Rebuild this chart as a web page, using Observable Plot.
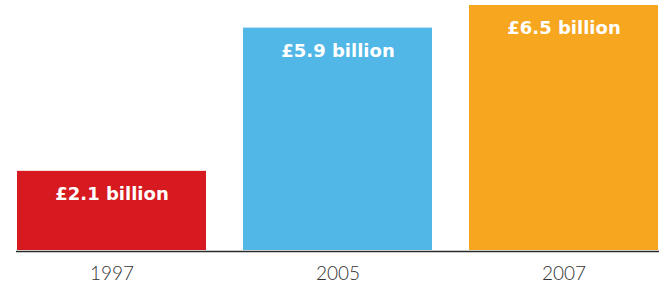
<!DOCTYPE html>
<html>
<head>
<meta charset="utf-8">
<script src="https://cdn.jsdelivr.net/npm/d3@7"></script>
<script src="https://cdn.jsdelivr.net/npm/@observablehq/plot@0.6"></script>
<style>
  html, body { margin: 0; padding: 0; background: #fff; }
  #chart svg { display: block; }
</style>
</head>
<body>
<div id="chart"></div>
<script>
const years = ["1997", "2005", "2007"];
const values = [2.1, 5.9, 6.5];
const labels = ["£2.1 billion", "£5.9 billion", "£6.5 billion"];
const colors = ["#d71920", "#50b7e6", "#f6a61f"];

const data = years.map((y, i) => ({year: y, value: values[i], label: labels[i], color: colors[i]}));

const chart = Plot.plot({
  width: 659,
  height: 285,
  marginLeft: 16,
  marginRight: 0,
  marginTop: 5,
  marginBottom: 35,
  style: {fontFamily: "Lato, 'Open Sans', sans-serif", background: "#fff", color: "#333"},
  x: {domain: years, paddingInner: 0.163, paddingOuter: 0, label: null},
  y: {domain: [0, 6.5], axis: null},
  marks: [
    Plot.barY(data, {x: "year", y: "value", fill: "color"}),
    Plot.ruleY([0], {stroke: "#2a2a2a", strokeWidth: 1.5, dy: 1}),
    Plot.text(data, {x: "year", y: "value", text: "label", dy: 23, fill: "#fff", fontSize: 18, fontWeight: "bold", fontFamily: "'DejaVu Sans', sans-serif", letterSpacing: "0.4px"}),
    Plot.axisX({tickSize: 0, tickPadding: 16, fontSize: 19, fontWeight: 300, fill: "#333", label: null})
  ]
});
document.getElementById("chart").appendChild(chart);
</script>
</body>
</html>
